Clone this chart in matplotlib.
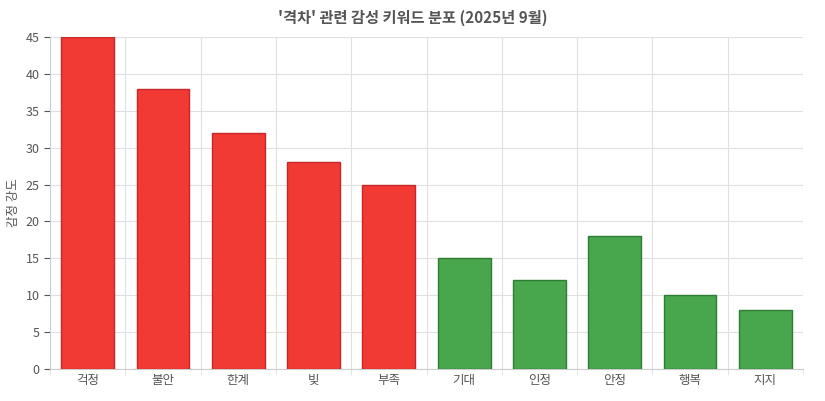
import matplotlib
matplotlib.use("Agg")
import matplotlib.pyplot as plt

plt.rcParams['font.family'] = ['Noto Sans CJK KR', 'DejaVu Sans']

categories = ['걱정', '불안', '한계', '빚', '부족', '기대', '인정', '안정', '행복', '지지']
values = [45, 38, 32, 28, 25, 15, 12, 18, 10, 8]
colors = ['#f23a35'] * 5 + ['#48a64c'] * 5
edges = ['#c62828'] * 5 + ['#2e7d32'] * 5

fig = plt.figure(figsize=(8.25, 4.01), dpi=100)
ax = fig.add_axes([50/825, 32/401, 753/825, 332/401])
x = range(len(categories))
ax.bar(x, values, width=0.7, color=colors, edgecolor=edges, linewidth=1, zorder=3)
ax.set_xlim(-0.5, len(categories) - 0.5)
ax.set_ylim(0, 45)
ax.set_yticks(range(0, 46, 5))
ax.set_xticks(list(x))
ax.set_xticklabels(categories)
ax.tick_params(colors='#555555', labelsize=9, length=4)
ax.tick_params(axis='x', colors='#555555')
ax.set_xticks([i - 0.5 for i in range(len(categories) + 1)], minor=True)
ax.grid(True, which='major', axis='y', color='#e0e0e0', linewidth=0.8, zorder=0)
ax.grid(True, which='minor', axis='x', color='#e0e0e0', linewidth=0.8, zorder=0)
ax.tick_params(axis='x', which='major', length=0)
ax.tick_params(axis='x', which='minor', length=4, color='#e0e0e0')
for s in ['top', 'right']:
    ax.spines[s].set_visible(False)
for s in ['left', 'bottom']:
    ax.spines[s].set_color('#cccccc')
ax.set_ylabel('감정 강도', color='#555555', fontsize=9)
fig.suptitle("'격차' 관련 감성 키워드 분포 (2025년 9월)", fontsize=11, fontweight='bold', color='#555555', y=0.975)
fig.savefig('out.png', dpi=100)
